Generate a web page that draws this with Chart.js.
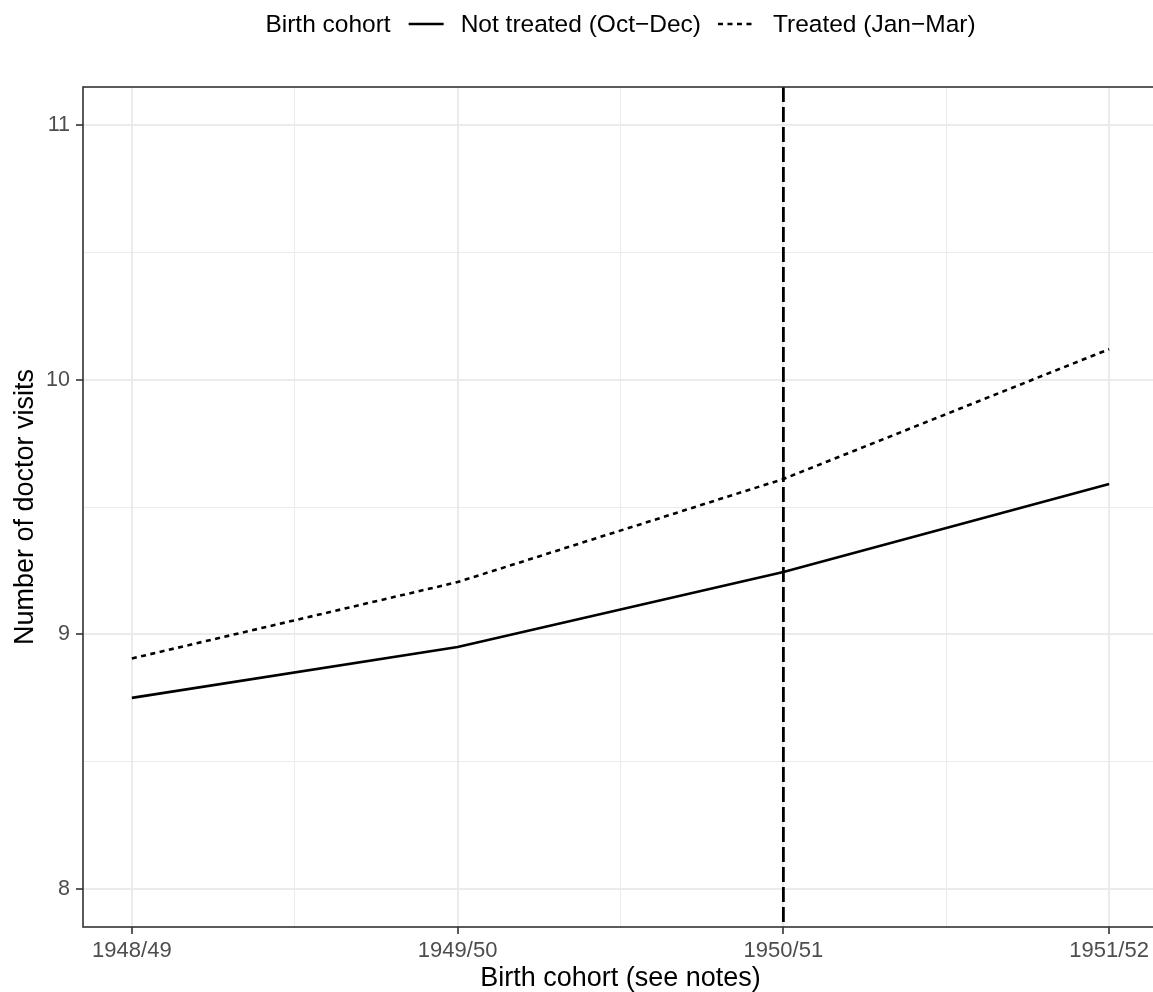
<!DOCTYPE html>
<html>
<head>
<meta charset="utf-8">
<script src="https://cdn.jsdelivr.net/npm/chart.js@4"></script>
<style>
  html, body { margin: 0; padding: 0; background: #fff; overflow: hidden; }
  #wrap { position: relative; width: 1175px; height: 992px; }
</style>
</head>
<body>
<div id="wrap"><canvas id="chart"></canvas></div>
<script>
// Data
const cohorts = ["1948/49", "1949/50", "1950/51", "1951/52"];
const notTreated = [8.75, 8.95, 9.245, 9.59];
const treated = [8.905, 9.205, 9.61, 10.12];
const cutoffCohort = "1950/51";

const seriesNames = ["Not treated (Oct\u2212Dec)", "Treated (Jan\u2212Mar)"];
const legendTitle = "Birth cohort";
const xTitle = "Birth cohort (see notes)";
const yTitle = "Number of doctor visits";

const yTicks = [8, 8.5, 9, 9.5, 10, 10.5, 11];
const xTicks = [0, 0.5, 1, 1.5, 2, 2.5, 3];

const FONT = "'Liberation Sans', Arial, Helvetica, sans-serif";
const GRID = "#ebebeb";
const DARK = "#333333";

const isMajor = (v) => Math.abs(v - Math.round(v)) < 1e-9;

// Panel border, cutoff line, titles and legend
const decorations = {
    id: "decorations",
    afterDatasetsDraw(chart) {
        const { ctx, chartArea: a, scales } = chart;
        const xc = scales.x.getPixelForValue(cohorts.indexOf(cutoffCohort));
        ctx.save();
        ctx.beginPath();
        ctx.rect(a.left, a.top, a.right - a.left, a.bottom - a.top);
        ctx.clip();
        ctx.strokeStyle = "#000";
        ctx.lineWidth = 2.8;
        ctx.setLineDash([15, 5]);
        ctx.beginPath();
        ctx.moveTo(xc, a.top);
        ctx.lineTo(xc, a.bottom);
        ctx.stroke();
        ctx.restore();
    },
    afterDraw(chart) {
        const { ctx, chartArea: a } = chart;
        ctx.save();
        // border
        ctx.strokeStyle = DARK;
        ctx.lineWidth = 1.6;
        ctx.strokeRect(a.left, a.top, a.right - a.left, a.bottom - a.top);

        // axis titles
        ctx.fillStyle = "#000";
        ctx.font = "27px " + FONT;
        ctx.textAlign = "center";
        ctx.textBaseline = "alphabetic";
        ctx.fillText(xTitle, (a.left + a.right) / 2, 986);
        ctx.save();
        ctx.translate(33, (a.top + a.bottom) / 2);
        ctx.rotate(-Math.PI / 2);
        ctx.fillText(yTitle, 0, 0);
        ctx.restore();

        // legend
        ctx.font = "24.5px " + FONT;
        ctx.textAlign = "left";
        const wTitle = ctx.measureText(legendTitle).width;
        const w1 = ctx.measureText(seriesNames[0]).width;
        const w2 = ctx.measureText(seriesNames[1]).width;
        const keyW = 35;
        const total = wTitle + 18 + keyW + 17 + w1 + 17 + keyW + 20 + w2;
        let x = (a.left + a.right) / 2 - total / 2;
        const base = 32, keyY = 24;
        ctx.fillText(legendTitle, x, base);
        x += wTitle + 18;
        ctx.strokeStyle = "#000";
        ctx.lineWidth = 2.6;
        ctx.beginPath();
        ctx.moveTo(x, keyY); ctx.lineTo(x + keyW, keyY); ctx.stroke();
        x += keyW + 17;
        ctx.fillText(seriesNames[0], x, base);
        x += w1 + 17;
        ctx.setLineDash([5, 4.5]);
        ctx.beginPath();
        ctx.moveTo(x, keyY); ctx.lineTo(x + keyW, keyY); ctx.stroke();
        ctx.setLineDash([]);
        x += keyW + 20;
        ctx.fillText(seriesNames[1], x, base);
        ctx.restore();
    }
};

const gridOpts = {
    color: GRID,
    lineWidth: (c) => (c.tick && isMajor(c.tick.value) ? 2 : 1),
    tickColor: (c) => (c.tick && isMajor(c.tick.value) ? DARK : "rgba(0,0,0,0)"),
    tickLength: 7,
    tickWidth: 1.6,
};

new Chart(document.getElementById("chart"), {
    type: "line",
    data: {
        datasets: [
            {
                label: seriesNames[0],
                data: notTreated.map((v, i) => ({ x: i, y: v })),
                borderColor: "#000",
                borderWidth: 2.6,
                pointRadius: 0,
                tension: 0,
            },
            {
                label: seriesNames[1],
                data: treated.map((v, i) => ({ x: i, y: v })),
                borderColor: "#000",
                borderWidth: 2.6,
                borderDash: [5, 4.5],
                pointRadius: 0,
                tension: 0,
            },
        ],
    },
    options: {
        responsive: true,
        maintainAspectRatio: false,
        animation: false,
        layout: { padding: { top: 87, right: 17, bottom: 0, left: 0 } },
        plugins: { legend: { display: false }, tooltip: { enabled: false } },
        scales: {
            x: {
                type: "linear",
                min: -0.15,
                max: 3.15,
                afterBuildTicks: (s) => { s.ticks = xTicks.map((v) => ({ value: v })); },
                afterFit: (s) => { s.height = 65; },
                grid: gridOpts,
                border: { display: false },
                ticks: {
                    autoSkip: false,
                    maxRotation: 0,
                    padding: 4,
                    color: "#4d4d4d",
                    font: { family: FONT, size: 22 },
                    callback: (v) => (isMajor(v) ? cohorts[Math.round(v)] : ""),
                },
            },
            y: {
                min: 7.85,
                max: 11.15,
                afterBuildTicks: (s) => { s.ticks = yTicks.map((v) => ({ value: v })); },
                afterFit: (s) => { s.width = 83; },
                grid: gridOpts,
                border: { display: false },
                ticks: {
                    autoSkip: false,
                    padding: 6,
                    color: "#4d4d4d",
                    font: { family: FONT, size: 21.5 },
                    callback: (v) => (isMajor(v) ? String(v) : ""),
                },
            },
        },
    },
    plugins: [decorations],
});
</script>
</body>
</html>
